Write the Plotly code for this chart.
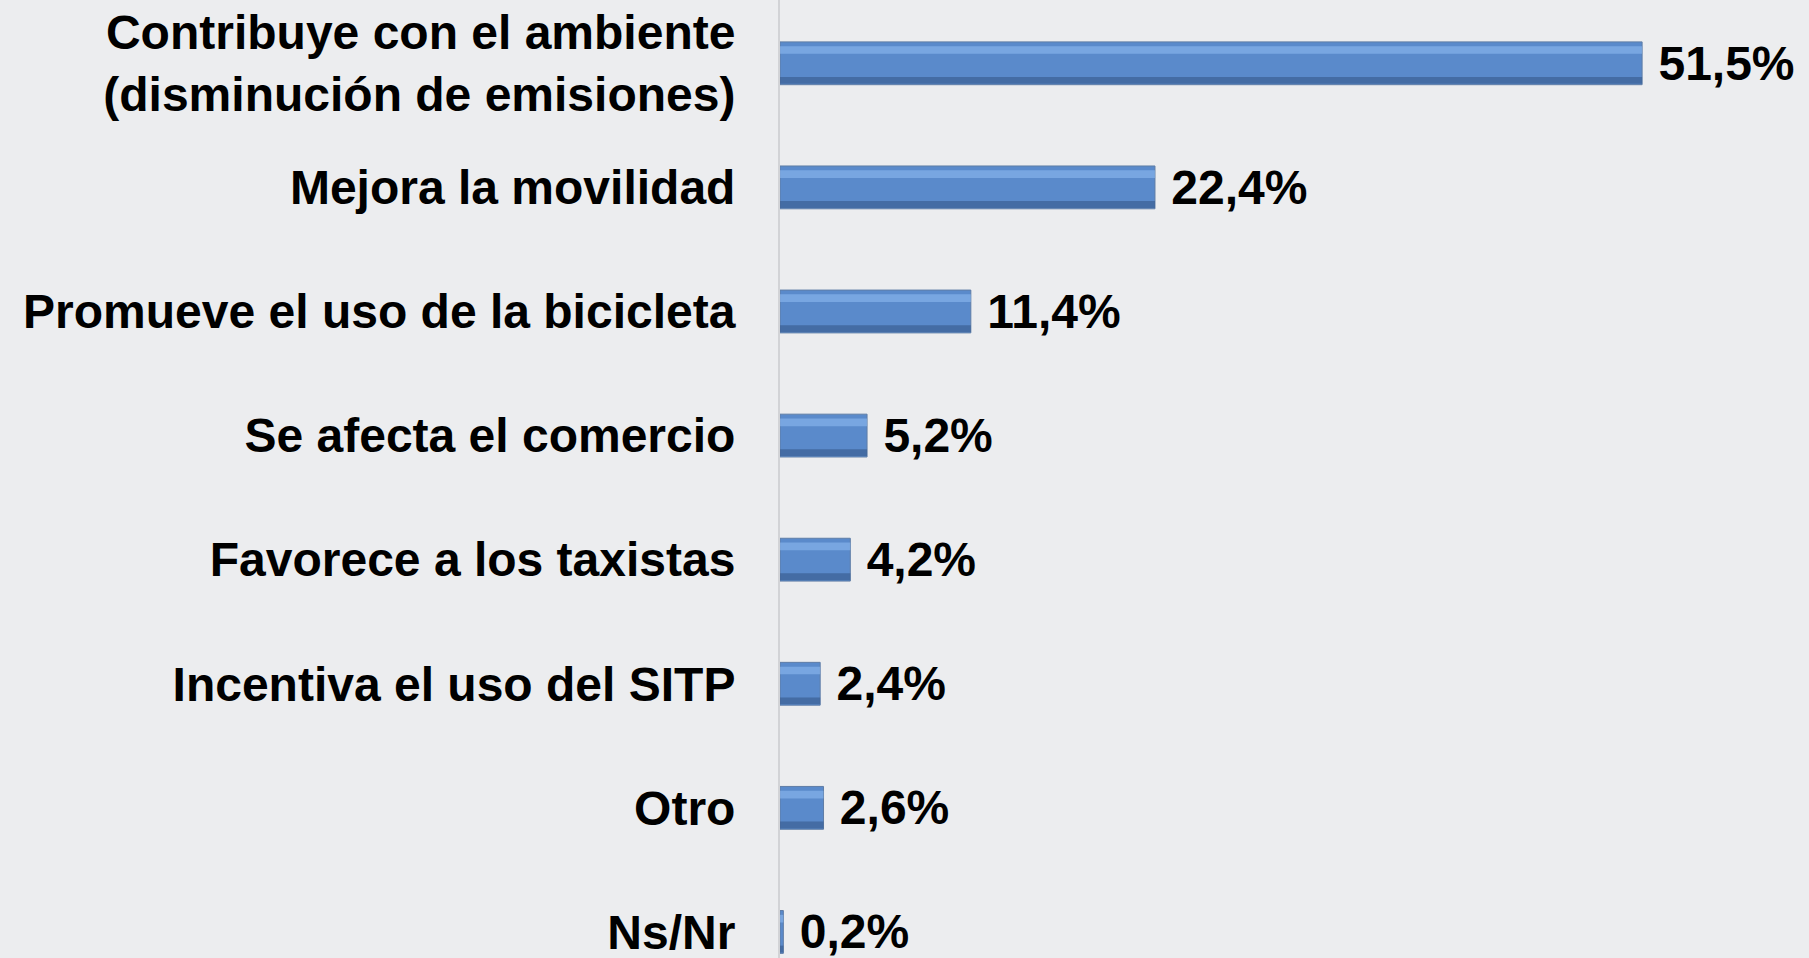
import plotly.graph_objects as go

categories = [
    "Contribuye con el ambiente<br>(disminución de emisiones)",
    "Mejora la movilidad",
    "Promueve el uso de la bicicleta",
    "Se afecta el comercio",
    "Favorece a los taxistas",
    "Incentiva el uso del SITP",
    "Otro",
    "Ns/Nr",
]
values = [51.5, 22.4, 11.4, 5.2, 4.2, 2.4, 2.6, 0.2]
value_labels = ["\u00a0" + f"{v:.1f}".replace(".", ",") + "%" for v in values]

BG = "#ECEDEF"
BW = 0.345  # bar thickness in category units
FONT = "Liberation Sans, Arial, sans-serif"

fig = go.Figure()
# main bar body
fig.add_trace(go.Bar(
    y=categories, x=values, orientation="h", width=BW,
    marker=dict(color="#5A8ACB", line=dict(color="#5F7DA6", width=1)),
    text=value_labels, textposition="outside", cliponaxis=False,
    constraintext="none",
    textfont=dict(family=FONT, size=48, color="#000000", weight="bold"),
    hoverinfo="skip",
))
# top highlight band
fig.add_trace(go.Bar(
    y=categories, x=values, orientation="h", width=BW * 0.18,
    offset=-BW / 2 + BW * 0.1,
    marker=dict(color="#8CBAF0", line=dict(width=0)), opacity=0.6,
    hoverinfo="skip",
))
# bottom shadow band
fig.add_trace(go.Bar(
    y=categories, x=values, orientation="h", width=BW * 0.16,
    offset=BW / 2 - BW * 0.18,
    marker=dict(color="#36598A", line=dict(width=0)), opacity=0.6,
    hoverinfo="skip",
))

fig.update_layout(
    width=1809, height=958,
    margin=dict(l=780, r=0, t=0, b=0),
    paper_bgcolor=BG, plot_bgcolor=BG,
    barmode="overlay",
    showlegend=False,
    font=dict(family=FONT, size=48, color="#000000", weight="bold"),
    xaxis=dict(range=[0, 61.47], visible=False, showgrid=False, zeroline=False),
    yaxis=dict(
        type="category", range=[7.21, -0.51],
        showline=True, linecolor="#D2D3D6", linewidth=2,
        showgrid=False, zeroline=False,
        ticks="", ticklabelstandoff=33,
        tickfont=dict(family=FONT, size=48, color="#000000", weight="bold"),
    ),
)

fig.write_html(
    "out.html",
    config={"displayModeBar": False},
    post_script="document.body.style.margin='0';document.body.style.background='#ECEDEF';",
)
